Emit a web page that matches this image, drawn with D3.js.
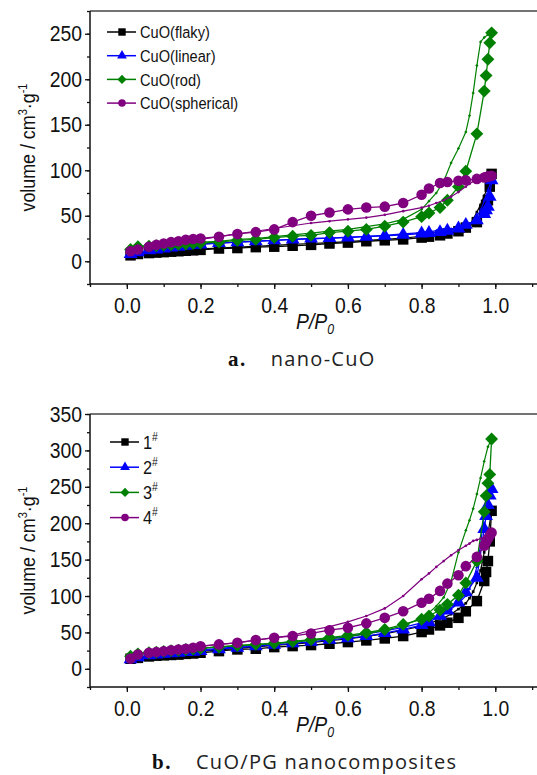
<!DOCTYPE html>
<html>
<head>
<meta charset="utf-8">
<script src="https://cdn.jsdelivr.net/npm/d3@7"></script>
<style>
  body { margin: 0; background: #fff; }
  text { font-family: "Liberation Sans", Arial, sans-serif; fill: #111; }
</style>
</head>
<body>
<div id="chart"></div>
<script>
// relative pressure points (shared by all series of a panel)
const pAds = [0.01, 0.03, 0.06, 0.08, 0.10, 0.12, 0.14, 0.16, 0.18, 0.20, 0.25, 0.30, 0.35, 0.40, 0.45, 0.50,
  0.55, 0.60, 0.65, 0.70, 0.75, 0.80, 0.82, 0.85, 0.87, 0.90, 0.92, 0.95, 0.97, 0.975, 0.98, 0.985, 0.99];
const pDes = [0.99, 0.98, 0.97, 0.96, 0.95, 0.94, 0.93, 0.92, 0.90, 0.88, 0.86, 0.84, 0.82, 0.80, 0.75, 0.70,
  0.65, 0.60, 0.55, 0.50, 0.45, 0.40, 0.35, 0.30, 0.25, 0.20, 0.15, 0.10];

// panel a: nano-CuO
const flakyAds = [6.5, 8, 9, 9.5, 10, 10.5, 11, 11.5, 12, 12.5, 14, 14.5, 15.5, 16, 17, 18, 19.5, 20.5, 22, 23, 24,
  26, 27, 28.5, 30.5, 33, 37, 43, 56, 62, 67, 82, 96];
const flakyDes = [96, 82, 72, 62, 54, 46, 40, 37, 34, 32, 30.5, 29.5, 28.5, 27.5, 25.5, 24, 23, 21.5, 20.5, 19.5,
  18.5, 17.5, 16.5, 15.5, 14.5, 13.5, 12, 10.5];
const linearAds = [8, 10, 12, 13, 14, 15, 16, 17, 18, 18.5, 20, 21, 22, 23, 24, 25, 25.5, 26, 27, 28, 29, 30.5,
  31, 32, 33.5, 36, 40, 45, 52, 56, 60, 71, 89];
const linearDes = [89, 78, 66, 56, 49, 44, 41, 39, 37, 35.5, 34.5, 33.5, 32.5, 31.5, 30, 28.5, 27.5, 26.5, 25.5,
  24.5, 24, 23, 22, 21, 20, 19, 17, 15];
const rodAds = [13, 16, 16.5, 17, 17.5, 18, 18.5, 19, 19.5, 20, 21, 23, 24, 26, 27.5, 28.5, 31.5, 33, 35, 38.5,
  43, 49, 53, 59, 67, 82, 99, 140, 187, 204, 222, 240, 251];
const rodDes = [251, 249, 246, 241, 215, 185, 160, 142, 124, 108, 88, 75, 66, 57, 46, 41, 38, 35, 33, 31, 29, 27,
  25, 24, 22, 21, 20, 19];
const sphericalAds = [11, 13, 16, 18, 19.5, 21, 22, 23.5, 24.5, 25, 27, 30, 32, 35, 43, 50, 53.5, 57, 59, 60, 64,
  73, 80, 86, 87, 88.5, 89, 90.5, 92, 92.5, 93, 93.5, 94];
const sphericalDes = [94, 93, 92, 91, 89.5, 88, 85, 82, 76, 71, 67, 64, 61, 59, 55, 51, 48, 46, 44, 42, 39, 36,
  33, 30, 27, 24, 21, 18];

// panel b: CuO/PG nanocomposites
const s1Ads = [13.8, 15, 17, 18, 18.5, 19, 19.5, 20.5, 21, 22, 24.3, 26.6, 27.5, 29.8, 31.2, 32.6, 34.4, 36.7, 39,
  41.7, 45, 50.5, 54, 59.6, 63.3, 70, 79, 93, 120.6, 133, 148, 175, 217];
const s1Des = [217, 185, 160, 135, 118, 106, 97, 90, 82, 75, 70, 66, 62, 59, 53, 48, 44.5, 41, 38.5, 36, 34, 32,
  30, 28, 26, 24, 21.5, 19.5];
const s2Ads = [13, 16, 18.5, 19.5, 20.5, 21.5, 22, 23, 23.5, 24.5, 27, 29, 31, 33, 35, 37, 40, 42, 45, 49, 54, 60,
  64, 73, 80, 91, 105, 125, 192, 210, 225, 238, 247];
const s2Des = [247, 240, 215, 170, 140, 122, 110, 100, 90, 82, 76, 71, 67, 63, 57, 52, 48, 45, 42, 39.5, 37, 35,
  32.5, 30, 28, 26, 23.5, 21];
const s3Ads = [17.4, 20.6, 22, 23, 24, 25, 25.5, 26.5, 27, 28, 30, 32, 33.5, 35, 37.5, 40, 42.7, 45.9, 49.5, 54,
  61, 68, 72.5, 80.7, 88.5, 101, 118, 148, 215.6, 237.6, 255, 267, 315.6];
const s3Des = [315.6, 305, 285, 262, 240, 220, 204, 190, 160, 120, 98, 86, 77, 70, 59, 53, 48, 44, 41, 39, 36.5,
  34.5, 33, 31.5, 30, 28.5, 26.5, 24.5];
const s4Ads = [14, 19.7, 22, 23, 24, 25.5, 26.5, 27.5, 29, 31, 33.5, 35.8, 39.4, 42.7, 45, 48.6, 53, 56.4, 62.4,
  70, 79, 90.8, 96.3, 107, 117, 128.4, 141, 153.7, 169, 174, 179, 183, 187];
const s4Des = [187, 184, 181, 179, 177, 175.7, 172, 169, 163, 156, 148, 140, 131, 123, 100, 83, 72.5, 64.5, 58,
  53, 46, 42.7, 39.4, 35.8, 33.5, 31, 28, 25];

const colors = ["#000000", "#0000ff", "#008000", "#800080"];
const shapes = ["square", "triangle", "diamond", "circle"];
const xTicks = [0, 0.2, 0.4, 0.6, 0.8, 1.0];
const narrow = 0.88; // reference uses a condensed sans

const svg = d3.select("#chart").append("svg")
  .attr("width", 537).attr("height", 775);

function pair(p, v) {
  return p.map((d, i) => ({ p: d, v: v[i] }));
}

function symbolPath(shape, size) {
  if (shape === "square") return d3.symbol(d3.symbolSquare, size)();
  if (shape === "triangle") return d3.symbol(d3.symbolTriangle, size * 0.75)();
  if (shape === "circle") return d3.symbol(d3.symbolCircle, size * 0.8)();
  return d3.symbol(d3.symbolSquare, size * 0.75)();
}

function drawPanel(cfg) {
  const g = svg.append("g");
  const x = d3.scaleLinear().domain([-0.1, 1.12]).range([90, 539.5]);
  const y = d3.scaleLinear().domain(cfg.yDomain).range([cfg.bottom, cfg.top]);

  // frame
  g.append("line").attr("x1", 90).attr("x2", 540).attr("y1", cfg.top).attr("y2", cfg.top)
    .attr("stroke", "#444").attr("stroke-width", 1.5);
  g.append("line").attr("x1", 90).attr("x2", 540).attr("y1", cfg.bottom).attr("y2", cfg.bottom)
    .attr("stroke", "#111").attr("stroke-width", 1.5);
  g.append("line").attr("x1", 90).attr("x2", 90).attr("y1", cfg.top).attr("y2", cfg.bottom)
    .attr("stroke", "#111").attr("stroke-width", 1.5);

  // x axis
  const xMinor = d3.range(-0.1, 1.11, 0.1).map(d => Math.round(d * 10) / 10);
  g.append("g").attr("transform", "translate(0," + cfg.bottom + ")")
    .call(d3.axisBottom(x).tickValues(xMinor).tickSize(3).tickFormat(""))
    .call(a => a.select(".domain").remove())
    .selectAll("line").attr("stroke", "#111").attr("stroke-width", 1.3);
  const xa = g.append("g").attr("transform", "translate(0," + cfg.bottom + ")")
    .call(d3.axisBottom(x).tickValues(xTicks).tickSize(5).tickPadding(8).tickFormat(d3.format(".1f")));
  xa.select(".domain").remove();
  xa.selectAll("line").attr("stroke", "#111").attr("stroke-width", 1.3);
  xa.selectAll("text").attr("font-size", 22).attr("font-family", null).attr("fill", "#111")
    .attr("transform", "scale(" + narrow + ",1)");

  // y axis
  const yMinor = d3.range(cfg.yDomain[0], cfg.yDomain[1] + 1, 25);
  g.append("g").attr("transform", "translate(90,0)")
    .call(d3.axisLeft(y).tickValues(yMinor).tickSize(3).tickFormat(""))
    .call(a => a.select(".domain").remove())
    .selectAll("line").attr("stroke", "#111").attr("stroke-width", 1.3);
  const ya = g.append("g").attr("transform", "translate(90,0)")
    .call(d3.axisLeft(y).tickValues(cfg.yTicks).tickSize(5).tickPadding(4));
  ya.select(".domain").remove();
  ya.selectAll("line").attr("stroke", "#111").attr("stroke-width", 1.3);
  ya.selectAll("text").attr("font-size", 22).attr("font-family", null).attr("fill", "#111")
    .attr("transform", "scale(" + narrow + ",1)");

  // axis titles
  const yl = g.append("text")
    .attr("transform", "translate(" + 35 + "," + ((cfg.top + cfg.bottom) / 2) + ") rotate(-90) scale(0.85,1)")
    .attr("text-anchor", "middle").attr("font-size", 21);
  yl.append("tspan").text("volume / cm");
  yl.append("tspan").attr("font-size", 13).attr("dy", -8).text("3");
  yl.append("tspan").attr("dy", 8).text("·g");
  yl.append("tspan").attr("font-size", 13).attr("dy", -8).text("-1");

  const xl = g.append("text")
    .attr("transform", "translate(296," + (cfg.bottom + 45) + ") scale(" + narrow + ",1)")
    .attr("font-size", 22).attr("font-style", "italic");
  xl.append("tspan").text("P/P");
  xl.append("tspan").attr("font-size", 14).attr("dy", 5).text("0");

  // series
  const line = d3.line().x(d => x(d.p)).y(d => y(d.v));
  cfg.series.forEach((s, i) => {
    const ads = pair(pAds, s.ads);
    const des = pair(pDes, s.des);
    const sg = g.append("g");
    sg.append("path").attr("d", line(des)).attr("fill", "none")
      .attr("stroke", colors[i]).attr("stroke-width", 1.2);
    sg.selectAll(".sm").data(des).enter().append("path")
      .attr("transform", d => "translate(" + x(d.p) + "," + y(d.v) + ")" + (shapes[i] === "diamond" ? " rotate(45)" : ""))
      .attr("d", symbolPath(shapes[i], 7)).attr("fill", colors[i]);
    sg.append("path").attr("d", line(ads)).attr("fill", "none")
      .attr("stroke", colors[i]).attr("stroke-width", 1.3);
    sg.selectAll(".big").data(ads).enter().append("path")
      .attr("transform", d => "translate(" + x(d.p) + "," + y(d.v) + ")" + (shapes[i] === "diamond" ? " rotate(45)" : ""))
      .attr("d", symbolPath(shapes[i], 110)).attr("fill", colors[i]);
  });

  // legend
  cfg.series.forEach((s, i) => {
    const ly = cfg.legendY + i * cfg.legendGap;
    const lg = g.append("g");
    lg.append("line").attr("x1", cfg.legendX).attr("x2", cfg.legendX + 29).attr("y1", ly).attr("y2", ly)
      .attr("stroke", colors[i]).attr("stroke-width", 1.5);
    lg.append("path")
      .attr("transform", "translate(" + (cfg.legendX + 15) + "," + ly + ")" + (shapes[i] === "diamond" ? " rotate(45)" : ""))
      .attr("d", symbolPath(shapes[i], 55)).attr("fill", colors[i]);
    const t = lg.append("text")
      .attr("transform", "translate(" + (cfg.legendX + 33) + "," + (ly + cfg.legendFont * 0.36) + ") scale(0.86,1)")
      .attr("font-size", cfg.legendFont);
    t.append("tspan").text(s.name);
    if (s.sup) t.append("tspan").attr("font-size", 12).attr("dy", -8).text(s.sup);
  });

  // caption
  const cap = g.append("text").attr("x", cfg.capX).attr("y", cfg.capY);
  cap.append("tspan").attr("font-family", "Liberation Serif, serif").attr("font-weight", "bold")
    .attr("font-size", 21).attr("letter-spacing", 1.5).text(cfg.capLabel);
  cap.append("tspan").attr("dx", 24).attr("font-family", "Open Sans, sans-serif").attr("font-size", 20)
    .attr("letter-spacing", 1.3).attr("fill", "#222").text(cfg.capText);
}

drawPanel({
  top: 11, bottom: 284, yDomain: [-25, 275], yTicks: [0, 50, 100, 150, 200, 250],
  legendX: 107, legendY: 32, legendGap: 23.7, legendFont: 17,
  capX: 228, capY: 366, capLabel: "a.", capText: "nano-CuO",
  series: [
    { name: "CuO(flaky)", ads: flakyAds, des: flakyDes },
    { name: "CuO(linear)", ads: linearAds, des: linearDes },
    { name: "CuO(rod)", ads: rodAds, des: rodDes },
    { name: "CuO(spherical)", ads: sphericalAds, des: sphericalDes }
  ]
});

drawPanel({
  top: 414, bottom: 687, yDomain: [-25, 350], yTicks: [0, 50, 100, 150, 200, 250, 300, 350],
  legendX: 110, legendY: 442, legendGap: 25.2, legendFont: 19,
  capX: 152, capY: 769, capLabel: "b.", capText: "CuO/PG nanocomposites",
  series: [
    { name: "1", sup: "#", ads: s1Ads, des: s1Des },
    { name: "2", sup: "#", ads: s2Ads, des: s2Des },
    { name: "3", sup: "#", ads: s3Ads, des: s3Des },
    { name: "4", sup: "#", ads: s4Ads, des: s4Des }
  ]
});
</script>
</body>
</html>
